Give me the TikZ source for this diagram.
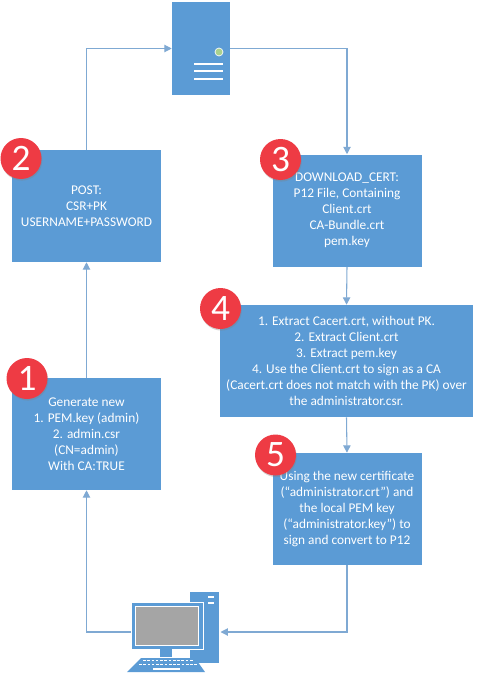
\documentclass[tikz,border=0pt]{standalone}
\usepackage{fontspec}
\setmainfont{Carlito}
\usepackage{xcolor}
\definecolor{flowBlue}{HTML}{5B9BD5}
\definecolor{flowLine}{HTML}{7FA9D3}
\definecolor{flowRed}{HTML}{EE3B44}
\definecolor{flowGreen}{HTML}{A9D18E}
\definecolor{flowGrey}{HTML}{A5A5A5}
\usetikzlibrary{arrows.meta, shadows}
\tikzset{
  %% Boxes
  stepbox/.style   = {fill=flowBlue, text=white, align=center, inner sep=0pt,
                      font=\fontsize{10}{12}\selectfont,
                      minimum width=111.75pt, minimum height=84pt},
  stepwide/.style  = {stepbox, minimum width=189.75pt},
  %% Red numbered circles
  badge/.style     = {circle, fill=flowRed, text=white, inner sep=0pt,
                      minimum size=30.75pt, font=\fontsize{28}{28}\selectfont,
                      drop shadow={shadow xshift=0.6pt, shadow yshift=-1.2pt,
                                   opacity=0.35}},
  %% Arrows
  flowarrow/.style = {-{Triangle[length=5.5pt, width=5.5pt]}, draw=flowLine,
                      line width=0.8pt},
  iconpart/.style  = {fill=flowBlue, draw=none, inner sep=0pt},
  iconbar/.style   = {draw=white, line width=1.5pt},
}
\begin{document}
\begin{tikzpicture}[x=0.75pt, y=-0.75pt]
\useasboundingbox (0,0) rectangle (477,674);

%% The steps
\node[stepbox] (gen) at (86.5, 434) {Generate new\\1. PEM.key (admin)\\2. admin.csr\\(CN=admin)\\With CA:TRUE};
\node[stepbox] (post) at (86.5, 206) {POST:\\CSR+PK\\USERNAME+PASSWORD};
\node[stepbox] (down) at (347, 210.5) {DOWNLOAD\_CERT:\\P12 File, Containing\\Client.crt\\CA-Bundle.crt\\pem.key};
\node[stepwide] (extr) at (346.5, 361) {1. Extract Cacert.crt, without PK.\\2. Extract Client.crt\\3. Extract pem.key\\4. Use the Client.crt to sign as a CA\\(Cacert.crt does not match with the PK) over\\the administrator.csr.};
\node[stepbox] (sign) at (347, 509) {Using the new certificate\\(“administrator.crt”) and\\the local PEM key\\(“administrator.key”) to\\sign and convert to P12};

%% The server
\node[iconpart, minimum width=43.5pt, minimum height=69.75pt] (server) at (201, 48.5) {};
\node[circle, fill=flowGreen, draw=white, line width=0.5pt, inner sep=0pt, minimum size=6pt] (led) at (219, 52) {};
\foreach \y in {64.5, 71.5, 79}
  \draw[iconbar] (194, \y) -- (223, \y);

%% The computer
\node[iconpart, minimum width=21.75pt, minimum height=53.25pt] (tower) at (204.5, 627.5) {};
\foreach \y in {597, 602.5}
  \draw[white, line width=1.5pt] (208, \y) -- (214, \y);
\node[iconpart, draw=white, line width=0.6pt, minimum width=54pt, minimum height=35.25pt] (monitor) at (167, 625.5) {};
\node[fill=flowGrey, draw=white, line width=0.5pt, inner sep=0pt, minimum width=47pt, minimum height=29pt] (screen) at (166.5, 625.5) {};
\node[iconpart, minimum width=9pt, minimum height=6.5pt] (stand) at (166, 653) {};
\fill[flowBlue] (141, 658) -- (195, 658) -- (205, 672) -- (127, 672) -- cycle;
\foreach \y/\xa/\xb in {660.5/143/193, 664.5/139/197}
  \draw[white, line width=1.2pt, dash pattern=on 2pt off 1.2pt] (\xa, \y) -- (\xb, \y);
\draw[white, line width=1.5pt] (153, 668.5) -- (180, 668.5);
\coordinate (pcleft) at (131, 632);
\coordinate (pcright) at (220.5, 632);

%% The connectors
\draw[flowarrow] (pcleft) -| (gen.south);
\draw[flowarrow] (gen.north) -- (post.south);
\draw[flowarrow] (post.north) |- (server.west);
\draw[flowarrow] (server.east) -| (down.north);
\draw[flowarrow] (down.south) -- (extr.north);
\draw[flowarrow] (extr.south) -- (sign.north);
\draw[flowarrow] (sign.south) |- (pcright);

%% The numbers
\node[badge] (b1) at (27, 378.5) {1};
\node[badge] (b2) at (21, 158.5) {2};
\node[badge] (b3) at (280.5, 159.5) {3};
\node[badge] (b4) at (220.5, 308.5) {4};
\node[badge] (b5) at (275.5, 455) {5};

\end{tikzpicture}
\end{document}
